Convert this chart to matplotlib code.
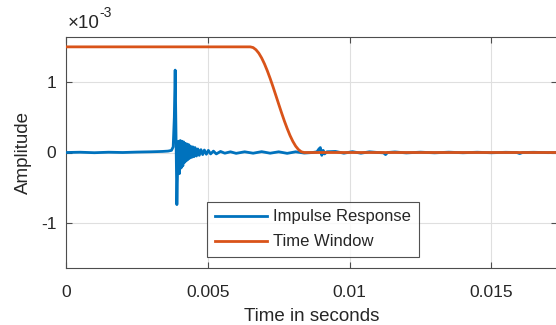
import matplotlib
matplotlib.use("Agg")
import matplotlib.pyplot as plt
import numpy as np

# Impulse response (time in ms, amplitude in 1e-3 units)
ir_time_ms = [0.0, 0.5, 1.0, 1.5, 2.0, 2.5, 3.0, 3.4, 3.6, 3.72, 3.78,
              3.82, 3.85, 3.88, 3.91, 3.94, 3.97, 4.00, 4.03, 4.06, 4.09,
              4.12, 4.15, 4.18, 4.21, 4.24, 4.27, 4.30, 4.33, 4.36, 4.39,
              4.43, 4.47, 4.51, 4.55, 4.60, 4.65, 4.70, 4.76, 4.82, 4.88,
              4.95, 5.02, 5.10, 5.20, 5.30, 5.45, 5.6, 5.8, 6.0, 6.3, 6.6,
              6.9, 7.2, 7.5, 7.8, 8.1, 8.4, 8.7, 8.85, 8.92, 8.97, 9.02,
              9.07, 9.12, 9.2, 9.5, 9.8, 10.1, 10.4, 10.7, 11.0, 11.2,
              11.27, 11.34, 11.6, 12.0, 12.5, 13.0, 13.5, 14.0, 14.5,
              15.0, 15.5, 15.9, 16.0, 16.1, 16.5, 17.0, 17.3]
ir_value = [0.0, 0.004, -0.003, 0.004, 0.0, 0.006, 0.01, 0.015, 0.02, 0.03, 0.08,
            0.5, 1.17, 0.25, -0.74, -0.15, 0.16, -0.30, 0.17, -0.22, 0.16,
            -0.19, 0.15, -0.14, 0.13, -0.12, 0.12, -0.10, 0.11, -0.08, 0.09,
            -0.07, 0.08, -0.06, 0.07, -0.05, 0.05, -0.04, 0.04, -0.03, 0.035,
            -0.025, 0.03, -0.02, 0.02, -0.02, 0.015, -0.01, 0.01, -0.012, 0.01, -0.01,
            0.012, -0.01, 0.01, -0.012, 0.01, -0.008, 0.0, 0.01, 0.05, 0.07, -0.04,
            0.03, -0.02, 0.01, 0.015, -0.01, 0.012, -0.01, 0.01, 0.0, -0.005,
            -0.03, 0.0, 0.008, -0.006, 0.005, -0.005, 0.005, -0.004, 0.004,
            -0.004, 0.003, 0.0, -0.015, 0.0, 0.003, -0.002, 0.0]

# Time window (time in ms, amplitude in 1e-3 units)
win_time_ms = [0.0, 6.5, 6.6, 6.7, 6.8, 6.9, 7.0, 7.1, 7.2, 7.3, 7.4, 7.5,
               7.6, 7.7, 7.8, 7.9, 8.0, 8.1, 8.2, 8.3, 8.4, 17.3]
win_value = [1.5, 1.5, 1.49, 1.459, 1.41, 1.342, 1.258, 1.16, 1.051, 0.934,
             0.812, 0.688, 0.566, 0.449, 0.341, 0.242, 0.158, 0.09, 0.041,
             0.01, 0.0, 0.0]

xticks = [0, 0.005, 0.01, 0.015]
xtick_labels = ["0", "0.005", "0.01", "0.015"]
yticks = [-1, 0, 1]
ytick_labels = ["-1", "0", "1"]

plt.rcParams['font.family'] = ['Liberation Sans', 'DejaVu Sans']

fig = plt.figure(figsize=(5.56, 3.25), dpi=100)
ax = fig.add_axes([66/556, 57/325, 1 - 66/556 + 0.002, 231/325])

blue = '#0072BD'
orange = '#D95319'
ax.plot(np.array(ir_time_ms) * 1e-3, ir_value, color=blue, lw=2.0,
        label='Impulse Response', zorder=3)
ax.plot(np.array(win_time_ms) * 1e-3, win_value, color=orange, lw=2.0,
        label='Time Window', zorder=4)

ax.set_xlim(0, 0.01732)
ax.set_ylim(-1.64, 1.64)
ax.set_xticks(xticks)
ax.set_xticklabels(xtick_labels)
ax.set_yticks(yticks)
ax.set_yticklabels(ytick_labels)
ax.grid(True, color='#dfdfdf', lw=0.8)
ax.set_axisbelow(True)
spine_c = '#4d4d4d'
for s in ax.spines.values():
    s.set_color(spine_c)
    s.set_linewidth(0.8)
ax.tick_params(direction='in', length=4, colors='#262626', labelsize=12.5,
               top=True, right=True, width=0.8)
ax.tick_params(axis='x', pad=12, color=spine_c)
ax.tick_params(axis='y', pad=7, color=spine_c)
for t in ax.get_xticklabels() + ax.get_yticklabels():
    t.set_color('#262626')

ax.set_xlabel('Time in seconds', fontsize=13.5, color='#262626', labelpad=6)
ax.set_ylabel('Amplitude', fontsize=13.5, color='#262626', labelpad=6)
ax.text(0.003, 1.02, '\u00d710', transform=ax.transAxes, fontsize=13.5,
        color='#262626', ha='left', va='bottom')
ax.text(0.068, 1.075, '-3', transform=ax.transAxes, fontsize=10,
        color='#262626', ha='left', va='bottom')

leg = ax.legend(loc='upper left', bbox_to_anchor=(0.288, 0.286),
                borderaxespad=0, fontsize=12, frameon=True, fancybox=False,
                edgecolor='#262626', handlelength=3.1, handletextpad=0.4,
                borderpad=0.45, labelspacing=0.6)
leg.get_frame().set_linewidth(0.8)
for txt in leg.get_texts():
    txt.set_color('#262626')

fig.savefig('out.png', dpi=100)
